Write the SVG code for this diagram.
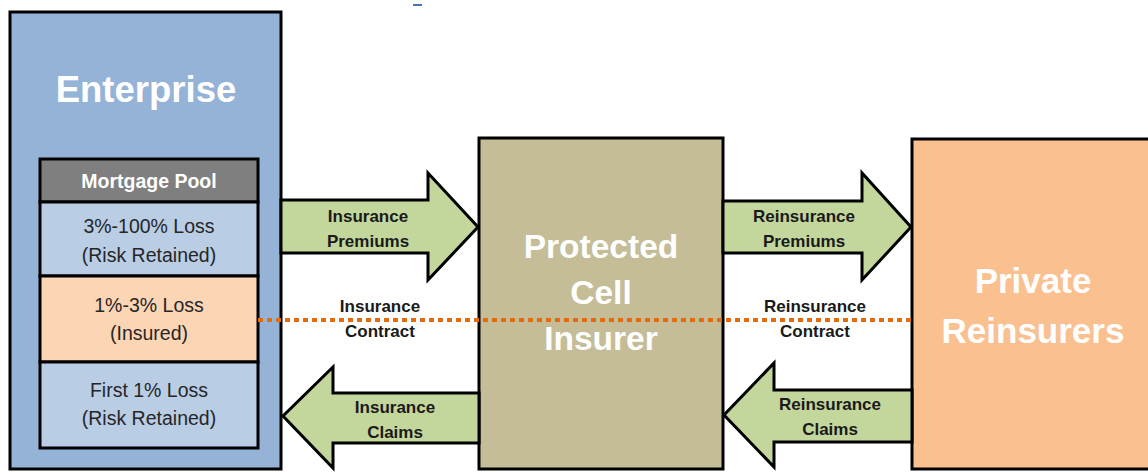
<svg xmlns="http://www.w3.org/2000/svg" width="1148" height="472" viewBox="0 0 1148 472">
<style>
.box{stroke:#000;stroke-width:3}
.title{font-family:"Liberation Sans",Arial,sans-serif;font-weight:bold;fill:#fff;text-anchor:middle}
.cell{font-family:"Liberation Sans",Arial,sans-serif;font-size:19.5px;fill:#262626;text-anchor:middle}
.lbl{font-family:"Liberation Sans",Arial,sans-serif;font-size:17px;font-weight:bold;fill:#1a1a1a;text-anchor:middle}
.arrow{fill:#c3d69b;stroke:#000;stroke-width:3;stroke-linejoin:miter}
</style>
<rect width="1148" height="472" fill="#fff"/>
<line x1="413" y1="5" x2="422" y2="5" stroke="#4472c4" stroke-width="2"/>

<g id="enterprise">
<rect class="box" x="10" y="12" width="271" height="457" fill="#95b3d7"/>
<text class="title" x="146" y="102" font-size="36.5">Enterprise</text>
</g>

<g id="mortgage-pool">
<rect class="box" x="40" y="159" width="218" height="43" fill="#7f7f7f"/>
<text class="title" x="149" y="188" font-size="19.5">Mortgage Pool</text>
<rect class="box" x="40" y="202" width="218" height="74" fill="#b9cde5"/>
<text class="cell" x="149" y="233">3%-100% Loss</text>
<text class="cell" x="149" y="262">(Risk Retained)</text>
<rect class="box" x="40" y="276" width="218" height="86" fill="#fcd5b5"/>
<text class="cell" x="149" y="312">1%-3% Loss</text>
<text class="cell" x="149" y="340">(Insured)</text>
<rect class="box" x="40" y="362" width="218" height="86" fill="#b9cde5"/>
<text class="cell" x="149" y="397">First 1% Loss</text>
<text class="cell" x="149" y="425">(Risk Retained)</text>
</g>

<g id="protected-cell-insurer">
<rect class="box" x="479" y="138" width="244" height="331" fill="#c4bd97"/>
<text class="title" x="601" y="258" font-size="33.5">Protected</text>
<text class="title" x="601" y="304" font-size="33.5">Cell</text>
<text class="title" x="601" y="350" font-size="33.5">Insurer</text>
</g>

<g id="private-reinsurers">
<rect class="box" x="912" y="139" width="250" height="330" fill="#fac090"/>
<text class="title" x="1033" y="293" font-size="35">Private</text>
<text class="title" x="1033" y="343" font-size="35">Reinsurers</text>
</g>

<g id="connectors">
<line x1="258" y1="320" x2="912" y2="320" stroke="#e46c0a" stroke-width="4" stroke-dasharray="5 4"/>
<polygon class="arrow" points="281,200 428,200 428,173 478,227 428,280 428,253 281,253"/>
<polygon class="arrow" points="479,393 333,393 333,367 283,416 333,468 333,443 479,443"/>
<polygon class="arrow" points="723,201 862,201 862,173 911,227 862,280 862,253 723,253"/>
<polygon class="arrow" points="912,390 774,390 774,363 724,415 774,467 774,442 912,442"/>
<text class="lbl" x="368" y="222">Insurance</text>
<text class="lbl" x="368" y="247">Premiums</text>
<text class="lbl" x="380" y="312">Insurance</text>
<text class="lbl" x="380" y="337">Contract</text>
<text class="lbl" x="395" y="413">Insurance</text>
<text class="lbl" x="395" y="438">Claims</text>
<text class="lbl" x="804" y="222">Reinsurance</text>
<text class="lbl" x="804" y="247">Premiums</text>
<text class="lbl" x="815" y="312">Reinsurance</text>
<text class="lbl" x="815" y="337">Contract</text>
<text class="lbl" x="830" y="410">Reinsurance</text>
<text class="lbl" x="830" y="435">Claims</text>
</g>
</svg>
